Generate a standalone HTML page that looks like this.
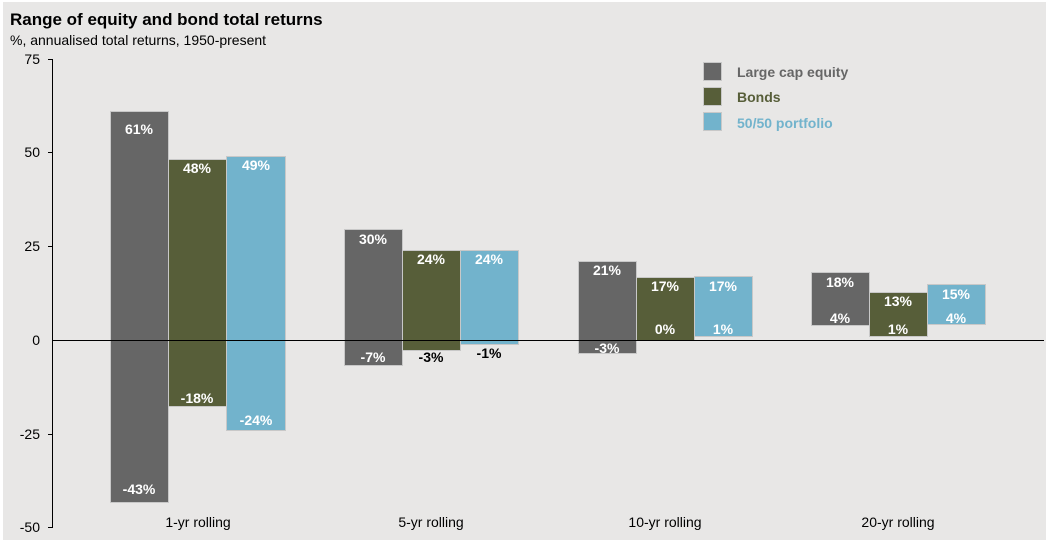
<!DOCTYPE html>
<html><head><meta charset="utf-8"><style>
body{margin:0;background:#fff}
svg{display:block;font-family:"Liberation Sans",Arial,sans-serif}
</style></head><body>
<svg width="1048" height="542" viewBox="0 0 1048 542">
<rect x="3" y="2" width="1043" height="538" fill="#e8e7e6"/>
<text x="10" y="25" font-size="17" font-weight="bold" fill="#000">Range of equity and bond total returns</text>
<text x="10" y="45" font-size="14" fill="#000">%, annualised total returns, 1950-present</text>
<g font-size="14" fill="#000" text-anchor="end">
<text x="40" y="64">75</text><text x="40" y="157">50</text><text x="40" y="251">25</text>
<text x="40" y="345">0</text><text x="40" y="439">-25</text><text x="40" y="532">-50</text>
</g>
<g stroke="#000" stroke-width="1">
<line x1="52.5" y1="59" x2="52.5" y2="528"/>
<line x1="48" y1="59.5" x2="52" y2="59.5"/><line x1="48" y1="152.5" x2="52" y2="152.5"/>
<line x1="48" y1="246.5" x2="52" y2="246.5"/><line x1="48" y1="434.5" x2="52" y2="434.5"/>
<line x1="48" y1="527.5" x2="52" y2="527.5"/>
</g>
<g stroke="#c8c8c8" stroke-width="1">
<rect x="110.5" y="111.5" width="58" height="391" fill="#666666"/>
<rect x="168.5" y="159.5" width="58" height="247" fill="#575e39"/>
<rect x="226.5" y="156.5" width="59" height="274" fill="#72b3cc"/>
<rect x="344.5" y="229.5" width="58" height="136" fill="#666666"/>
<rect x="402.5" y="250.5" width="58" height="100" fill="#575e39"/>
<rect x="460.5" y="250.5" width="58" height="94" fill="#72b3cc"/>
<rect x="578.5" y="261.5" width="58" height="92" fill="#666666"/>
<rect x="636.5" y="277.5" width="58" height="63" fill="#575e39"/>
<rect x="694.5" y="276.5" width="58" height="60" fill="#72b3cc"/>
<rect x="811.5" y="272.5" width="58" height="53" fill="#666666"/>
<rect x="869.5" y="292.5" width="58" height="44" fill="#575e39"/>
<rect x="927.5" y="284.5" width="58" height="40" fill="#72b3cc"/>
</g>
<line x1="52" y1="340.5" x2="1044" y2="340.5" stroke="#000" stroke-width="1"/>
<g font-size="14" font-weight="bold" fill="#fff" text-anchor="middle">
<text x="139" y="134">61%</text><text x="139" y="494">-43%</text>
<text x="197" y="173">48%</text><text x="197" y="403">-18%</text>
<text x="256" y="170">49%</text><text x="256" y="425">-24%</text>
<text x="373" y="244">30%</text><text x="373" y="362">-7%</text>
<text x="431" y="264">24%</text>
<text x="489" y="264">24%</text>
<text x="607" y="275">21%</text><text x="607" y="353">-3%</text>
<text x="665" y="291">17%</text><text x="665" y="334">0%</text>
<text x="723" y="291">17%</text><text x="723" y="334">1%</text>
<text x="840" y="287">18%</text><text x="840" y="323">4%</text>
<text x="898" y="306">13%</text><text x="898" y="334">1%</text>
<text x="956" y="299">15%</text><text x="956" y="323">4%</text>
</g>
<g font-size="14" font-weight="bold" fill="#000" text-anchor="middle">
<text x="431" y="362">-3%</text><text x="489" y="358">-1%</text>
</g>
<g font-size="14" fill="#000" text-anchor="middle">
<text x="198" y="527">1-yr rolling</text><text x="431" y="527">5-yr rolling</text>
<text x="665" y="527">10-yr rolling</text><text x="898" y="527">20-yr rolling</text>
</g>
<g stroke="#c8c8c8" stroke-width="1">
<rect x="703.5" y="62.5" width="18" height="18" fill="#666666"/>
<rect x="703.5" y="87.5" width="18" height="18" fill="#575e39"/>
<rect x="703.5" y="112.5" width="18" height="18" fill="#72b3cc"/>
</g>
<g font-size="14" font-weight="bold">
<text x="737" y="77" fill="#666666">Large cap equity</text>
<text x="737" y="102" fill="#575e39">Bonds</text>
<text x="737" y="128" fill="#72b3cc">50/50 portfolio</text>
</g>
</svg>
</body></html>
